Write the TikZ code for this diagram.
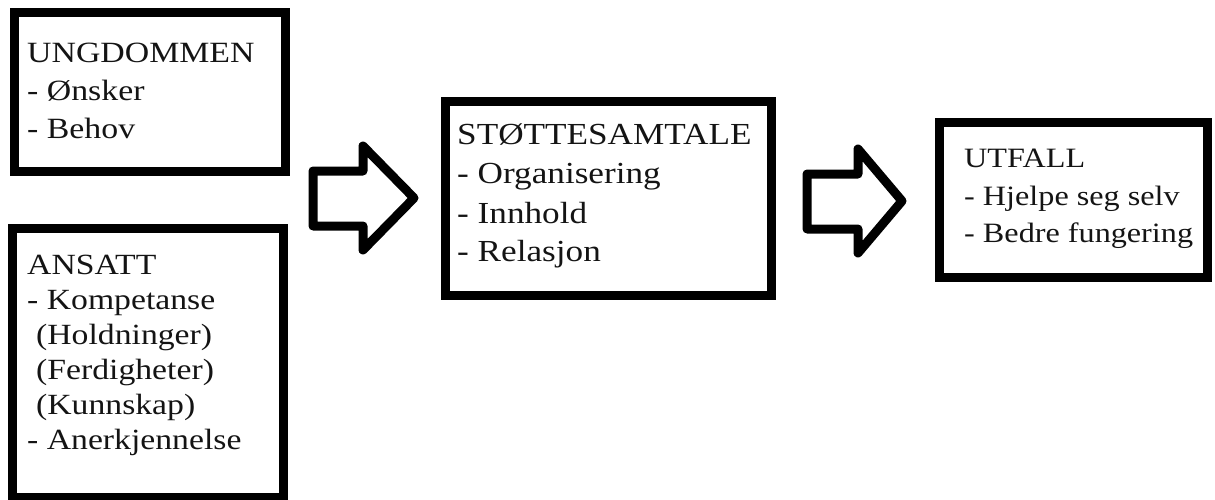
\documentclass[tikz,border=0pt]{standalone}
\usepackage{fontspec}
\setmainfont{Liberation Serif}[FakeStretch=1.15]
\begin{document}
\begin{tikzpicture}[x=1pt,y=-1pt,
  box/.style={draw=black, line width=9pt, inner sep=0pt, rectangle},
  txt/.style={anchor=base west, inner sep=0pt, text=black!92},
  blockarrow/.style={draw=black, line width=9pt, line join=round}]
\useasboundingbox (0,0) rectangle (1215,500);
% boxes
\node[box, minimum width=271pt, minimum height=159pt] (b1) at (150,92) {};
\node[box, minimum width=271pt, minimum height=269pt] (b2) at (148,363) {};
\node[box, minimum width=326pt, minimum height=194pt] (b3) at (608.5,198.5) {};
\node[box, minimum width=268pt, minimum height=155pt] (b4) at (1073.5,200) {};
% texts
\node[txt, font=\fontsize{29.4}{38}\selectfont] (t1) at (27,63)
  {\begin{tabular}[t]{@{}l@{}}UNGDOMMEN\\- Ønsker\\- Behov\end{tabular}};
\node[txt, font=\fontsize{29.3}{35}\selectfont] (t2) at (27,274)
  {\begin{tabular}[t]{@{}l@{}}ANSATT\\- Kompetanse\\\hspace*{9pt}(Holdninger)\\\hspace*{9pt}(Ferdigheter)\\\hspace*{9pt}(Kunnskap)\\- Anerkjennelse\end{tabular}};
\node[txt, font=\fontsize{30.6}{39}\selectfont] (t3) at (457,145)
  {\begin{tabular}[t]{@{}l@{}}STØTTESAMTALE\\- Organisering\\- Innhold\\- Relasjon\end{tabular}};
\node[txt, font=\fontsize{28}{38}\selectfont] (t4) at (964,167)
  {\begin{tabular}[t]{@{}l@{}}UTFALL\\- Hjelpe seg selv\\- Bedre fungering\end{tabular}};
% block arrows
\draw[blockarrow] (313,171) -- (363,171) -- (363,146) -- (414,198) -- (363,250) -- (363,226) -- (313,226) -- cycle;
\draw[blockarrow] (807,174) -- (858,174) -- (858,149) -- (902,201) -- (858,253) -- (858,229) -- (807,229) -- cycle;
\end{tikzpicture}
\end{document}
